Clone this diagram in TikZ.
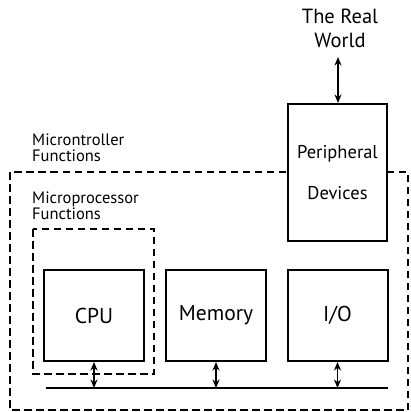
\documentclass[tikz,border=0pt]{standalone}
\usepackage{fontspec}
\setmainfont{PT Sans}
\usetikzlibrary{arrows.meta}
\begin{document}
\begin{tikzpicture}[x=1pt,y=-1pt,
  box/.style={draw,line width=2pt,fill=white,minimum width=100pt,minimum height=91pt,inner sep=0pt,font=\fontsize{21.5}{24}\selectfont},
  grp/.style={draw,line width=1.8pt,dash pattern=on 7.5pt off 4.5pt},
  lbl/.style={align=left,anchor=north west,inner sep=0pt,font={\fontsize{16.5}{16}\selectfont\lineskiplimit-20pt\relax}},
  bidir/.style={line width=1.5pt,{Stealth[length=8.5pt,width=7pt]}-{Stealth[length=8.5pt,width=7pt]}},
  busline/.style={line width=2pt}]
\useasboundingbox (0,0) rectangle (410,412);
% outer dashed group
\draw[grp] (10,172) rectangle (408,410);
% inner dashed group
\draw[grp] (33,229) rectangle (154,374);
% labels
\node[lbl] (mclbl) at (32,134) {Microntroller\\Functions};
\node[lbl] (mplbl) at (32,192) {Microprocessor\\Functions};
% peripheral
\node[box,minimum width=99pt,minimum height=137pt,align=center,font=\fontsize{18.5}{41}\selectfont] (periph) at (337.5,172.5) {Peripheral\\Devices};
\node[align=center,inner sep=0pt,font=\fontsize{20.5}{24}\selectfont] (world) at (340,28) {The Real\\World};
\coordinate (worldb) at (338,57);
\draw[bidir] (worldb) -- (worldb |- periph.north);
% blocks
\node[box] (cpu) at (94,315.5) {CPU};
\node[box] (mem) at (216,315.5) {Memory};
\node[box] (io) at (337.5,315.5) {I/O};
% bus
\coordinate (busL) at (46,388);
\coordinate (busR) at (388,388);
\draw[busline] (busL) -- (busR);
\draw[bidir] (cpu.south) -- (cpu.south |- busL);
\draw[bidir] (mem.south) -- (mem.south |- busL);
\draw[bidir] (io.south) -- (io.south |- busL);
\end{tikzpicture}
\end{document}
